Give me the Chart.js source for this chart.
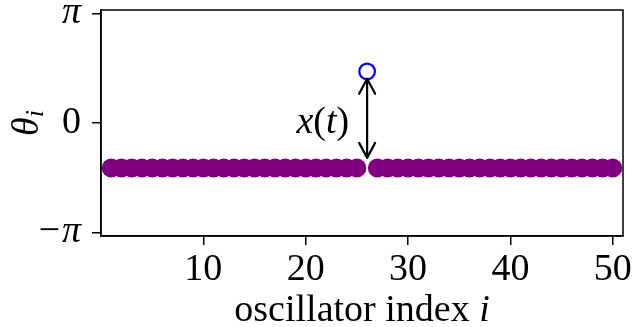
<!DOCTYPE html>
<html>
<head>
<meta charset="utf-8">
<script src="https://cdn.jsdelivr.net/npm/chart.js@4/dist/chart.umd.min.js"></script>
<style>
  html, body { margin: 0; padding: 0; background: #fff; }
  #wrap { width: 641px; height: 327px; position: relative; }
</style>
</head>
<body>
<div id="wrap"><canvas id="phaseChart"></canvas></div>
<script>
// oscillator indices and phases theta_i
const oscillatorIndex = [1, 2, 3, 4, 5, 6, 7, 8, 9, 10, 11, 12, 13, 14, 15, 16, 17, 18, 19, 20,
  21, 22, 23, 24, 25, 26, 27, 28, 29, 30, 31, 32, 33, 34, 35, 36, 37, 38, 39, 40,
  41, 42, 43, 44, 45, 46, 47, 48, 49, 50];
const theta = [-1.29, -1.29, -1.29, -1.29, -1.29, -1.29, -1.29, -1.29, -1.29, -1.29,
  -1.29, -1.29, -1.29, -1.29, -1.29, -1.29, -1.29, -1.29, -1.29, -1.29,
  -1.29, -1.29, -1.29, -1.29, -1.29, 1.48, -1.29, -1.29, -1.29, -1.29,
  -1.29, -1.29, -1.29, -1.29, -1.29, -1.29, -1.29, -1.29, -1.29, -1.29,
  -1.29, -1.29, -1.29, -1.29, -1.29, -1.29, -1.29, -1.29, -1.29, -1.29];
const displacedIndex = 26;
// arrow x(t) between the sync state and the displaced oscillator
const arrowFrom = -1.0;
const arrowTo = 1.27;
const xTicks = [10, 20, 30, 40, 50];
const yTicks = [-Math.PI, 0, Math.PI];
const yTickLabels = ["\u2212\u03c0", "0", "\u03c0"];

const serif = "'Liberation Serif', 'DejaVu Serif', serif";

const syncPts = [];
const kickPts = [];
oscillatorIndex.forEach((i, k) => {
  if (i === displacedIndex) kickPts.push({ x: i, y: theta[k] });
  else syncPts.push({ x: i, y: theta[k] });
});

const decor = {
  id: "decor",
  afterDatasetsDraw(chart) {
    const { ctx, chartArea: a, scales } = chart;
    const sx = scales.x, sy = scales.y;
    ctx.save();
    // frame on top and right
    ctx.strokeStyle = "#000";
    ctx.lineWidth = 1.5;
    ctx.strokeRect(a.left, a.top, a.right - a.left, a.bottom - a.top);

    // double arrow
    const ax = sx.getPixelForValue(displacedIndex);
    const y1 = sy.getPixelForValue(arrowFrom);
    const y2 = sy.getPixelForValue(arrowTo);
    ctx.lineWidth = 2.2;
    ctx.lineCap = "round";
    ctx.lineJoin = "round";
    ctx.beginPath();
    ctx.moveTo(ax, y1);
    ctx.lineTo(ax, y2);
    ctx.moveTo(ax - 8, y2 + 15);
    ctx.lineTo(ax, y2);
    ctx.lineTo(ax + 8, y2 + 15);
    ctx.moveTo(ax - 8, y1 - 15);
    ctx.lineTo(ax, y1);
    ctx.lineTo(ax + 8, y1 - 15);
    ctx.stroke();

    // label x(t)
    const ty = sy.getPixelForValue(0);
    ctx.fillStyle = "#000";
    ctx.textBaseline = "middle";
    ctx.textAlign = "left";
    const parts = [["italic", "x"], ["normal", "("], ["italic", "t"], ["normal", ")"]];
    let w = 0;
    parts.forEach(p => { ctx.font = p[0] + " 38px " + serif; w += ctx.measureText(p[1]).width; });
    let tx = ax - 18 - w;
    parts.forEach(p => {
      ctx.font = p[0] + " 38px " + serif;
      ctx.fillText(p[1], tx, ty);
      tx += ctx.measureText(p[1]).width;
    });

    // x axis title
    ctx.textBaseline = "alphabetic";
    const t1 = "oscillator index ";
    ctx.font = "38px " + serif;
    const w1 = ctx.measureText(t1).width;
    ctx.font = "italic 38px " + serif;
    const w2 = ctx.measureText("i").width;
    const lx = (a.left + a.right) / 2 - (w1 + w2) / 2;
    ctx.font = "38px " + serif;
    ctx.fillText(t1, lx, 321);
    ctx.font = "italic 38px " + serif;
    ctx.fillText("i", lx + w1, 321);

    // y axis title theta_i
    ctx.translate(38, (a.top + a.bottom) / 2);
    ctx.rotate(-Math.PI / 2);
    ctx.font = "italic 38px " + serif;
    const wt = ctx.measureText("\u03b8").width;
    ctx.font = "italic 26px " + serif;
    const wi = ctx.measureText("i").width;
    const x0 = -(wt + wi) / 2;
    ctx.font = "italic 38px " + serif;
    ctx.fillText("\u03b8", x0, 0);
    ctx.font = "italic 26px " + serif;
    ctx.fillText("i", x0 + wt, 5);
    ctx.restore();
  }
};

new Chart(document.getElementById("phaseChart"), {
  type: "scatter",
  data: {
    datasets: [
      {
        label: "sync",
        data: syncPts,
        backgroundColor: "#800080",
        borderColor: "#800080",
        borderWidth: 0,
        pointRadius: 9.5,
        pointHoverRadius: 9.5
      },
      {
        label: "kicked",
        data: kickPts,
        backgroundColor: "#ffffff",
        borderColor: "#0000ff",
        borderWidth: 2.2,
        pointRadius: 7.8,
        pointHoverRadius: 7.8
      }
    ]
  },
  options: {
    responsive: true,
    maintainAspectRatio: false,
    animation: false,
    layout: { padding: { top: 10, right: 18, left: 0, bottom: 0 } },
    plugins: { legend: { display: false }, tooltip: { enabled: false } },
    scales: {
      x: {
        type: "linear",
        min: 0,
        max: 51,
        afterBuildTicks: (s) => { s.ticks = xTicks.map(v => ({ value: v })); },
        afterFit: (s) => { s.height = 91; s.paddingLeft = 0; s.paddingRight = 0; },
        grid: { drawOnChartArea: false, drawTicks: true, tickLength: 9, color: "#000", lineWidth: 1.5 },
        border: { display: true, color: "#000", width: 1.5 },
        ticks: {
          color: "#000",
          padding: 2,
          maxRotation: 0,
          autoSkip: false,
          font: { family: serif, size: 38 },
          callback: (v) => String(v)
        }
      },
      y: {
        type: "linear",
        min: -Math.PI - 0.1,
        max: Math.PI + 0.1,
        afterBuildTicks: (s) => { s.ticks = yTicks.map(v => ({ value: v })); },
        afterFit: (s) => { s.width = 101; s.paddingTop = 0; s.paddingBottom = 0; },
        grid: { drawOnChartArea: false, drawTicks: true, tickLength: 9, color: "#000", lineWidth: 1.5 },
        border: { display: true, color: "#000", width: 1.5 },
        ticks: {
          color: "#000",
          padding: 11,
          autoSkip: false,
          font: (c) => ({ family: serif, size: 38, style: c.tick && c.tick.value !== 0 ? "italic" : "normal" }),
          callback: (v, idx) => yTickLabels[idx]
        }
      }
    }
  },
  plugins: [decor]
});
</script>
</body>
</html>
